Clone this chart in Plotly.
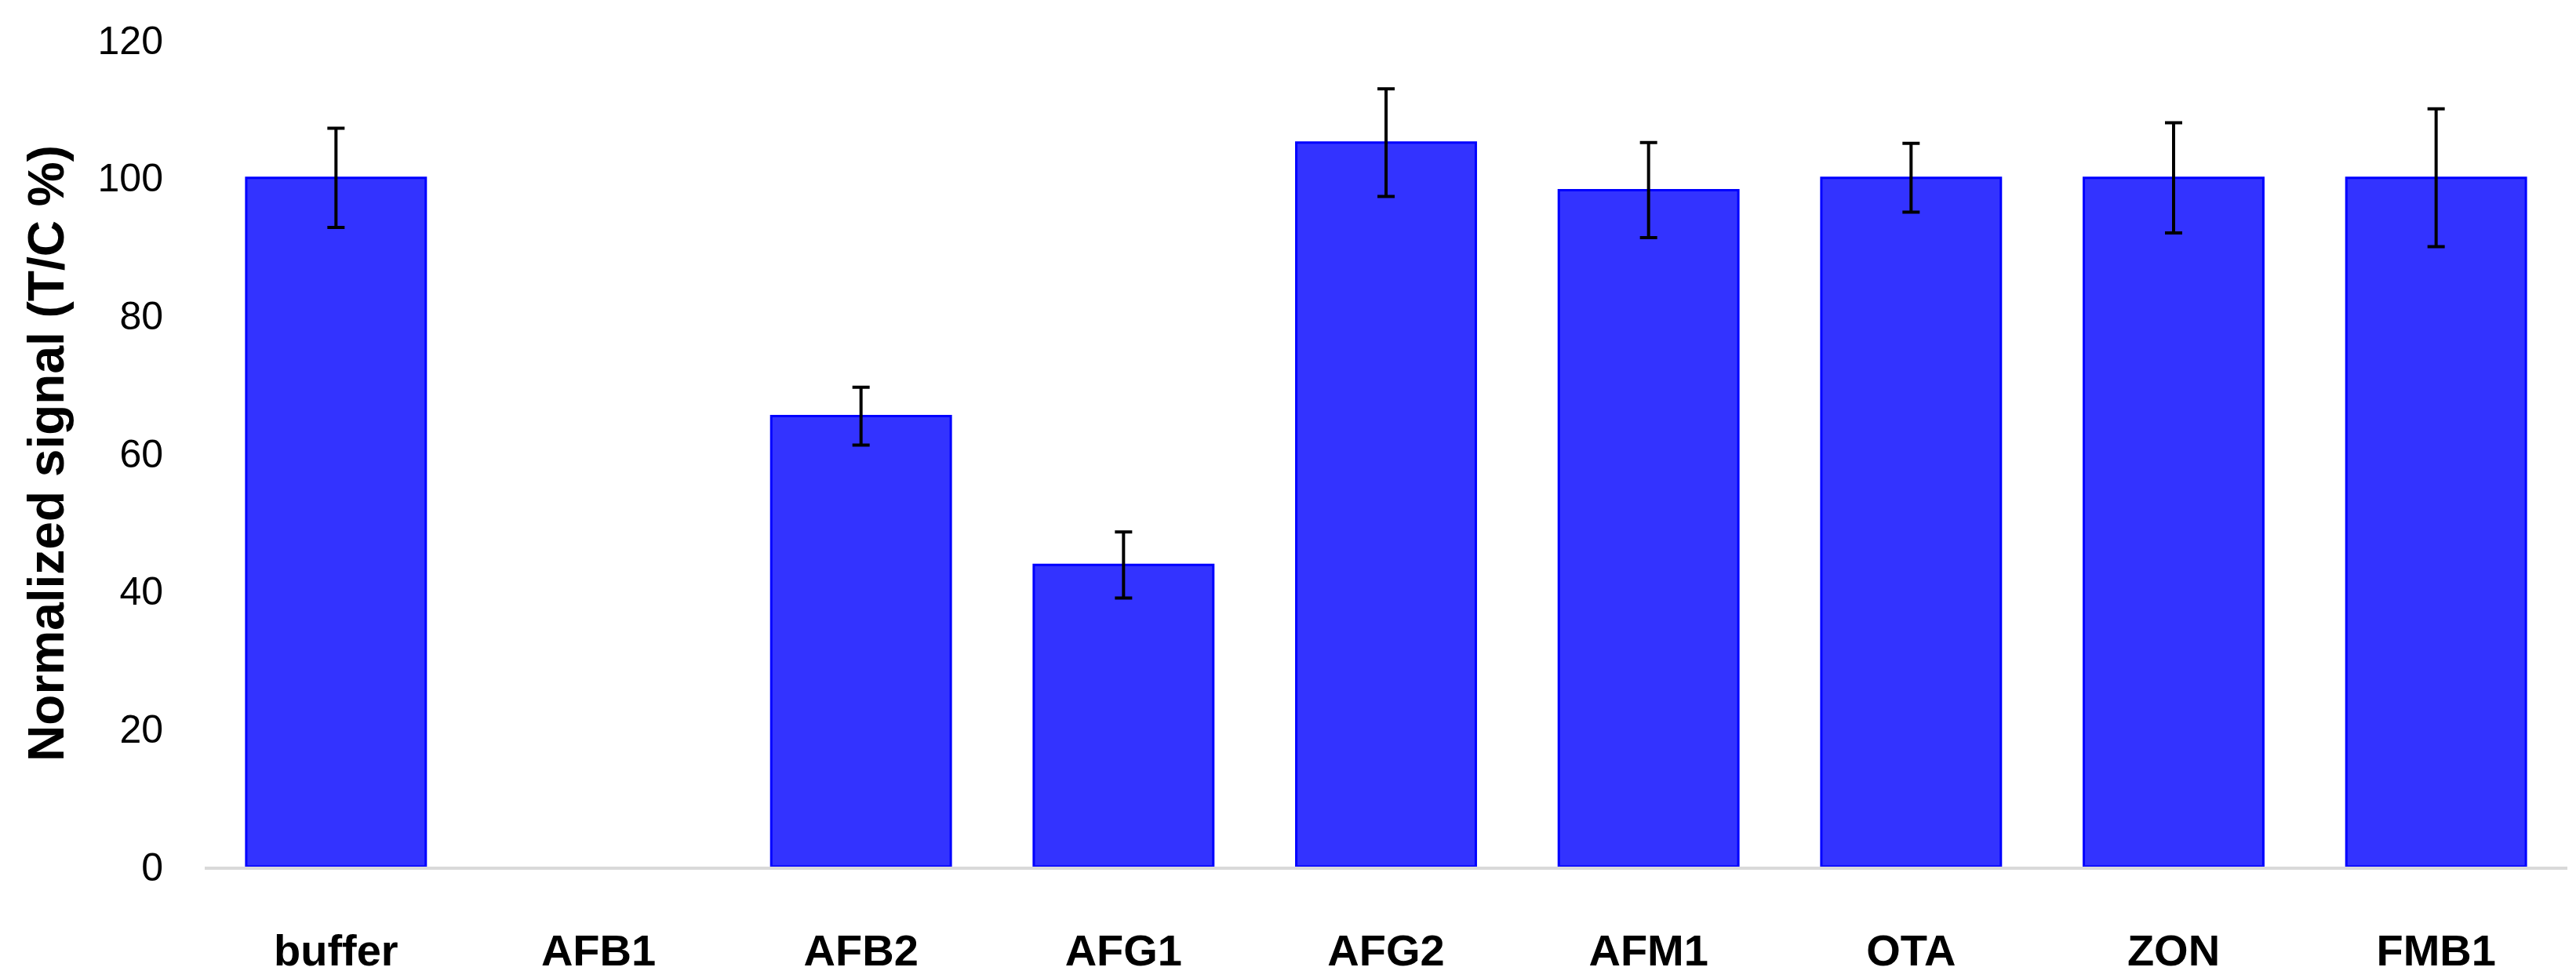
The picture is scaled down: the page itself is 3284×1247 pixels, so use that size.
import plotly.graph_objects as go

categories = ["buffer", "AFB1", "AFB2", "AFG1", "AFG2", "AFM1", "OTA", "ZON", "FMB1"]
values = [100, 0, 65.4, 43.8, 105.1, 98.2, 100, 100, 100]
errors = [7.2, 0, 4.2, 4.8, 7.8, 6.9, 5.0, 8.0, 10.0]
y_ticks = [0, 20, 40, 60, 80, 100, 120]

# zero-height bars (AFB1) are left empty: no outline, no error bar
plot_values = [v if v > 0 else None for v in values]
plot_errors = [e if v > 0 else None for v, e in zip(values, errors)]

fig = go.Figure()
fig.add_trace(go.Bar(
    x=categories,
    y=plot_values,
    marker=dict(color="#3333FF", line=dict(color="#0000FF", width=3)),
    error_y=dict(type="data", array=plot_errors, visible=True,
                 color="black", thickness=4, width=11),
))

fig.update_layout(
    width=3284, height=1247,
    margin=dict(l=253, r=19, t=43, b=137),
    paper_bgcolor="white", plot_bgcolor="white",
    bargap=0.316,
    showlegend=False,
    font=dict(family="Liberation Sans, Arial, sans-serif", color="black"),
)
fig.update_xaxes(
    categoryorder="array", categoryarray=categories,
    showline=True, linecolor="#d9d9d9", linewidth=4,
    showgrid=False, ticks="",
    tickfont=dict(size=56, family="Liberation Sans, Arial, sans-serif", weight="bold", color="black"),
    ticklabelstandoff=55,
)
fig.update_yaxes(
    range=[0, 120], tickvals=y_ticks, ticktext=[str(v) for v in y_ticks],
    showline=False, showgrid=False, zeroline=False, ticks="",
    tickfont=dict(size=50, family="Liberation Sans, Arial, sans-serif", color="black"),
    ticklabelstandoff=52,
    title=dict(text="Normalized signal (T/C %)",
               font=dict(size=64, family="Liberation Sans, Arial, sans-serif", weight="bold", color="black"),
               standoff=22),
)

fig.write_html("out.html")
